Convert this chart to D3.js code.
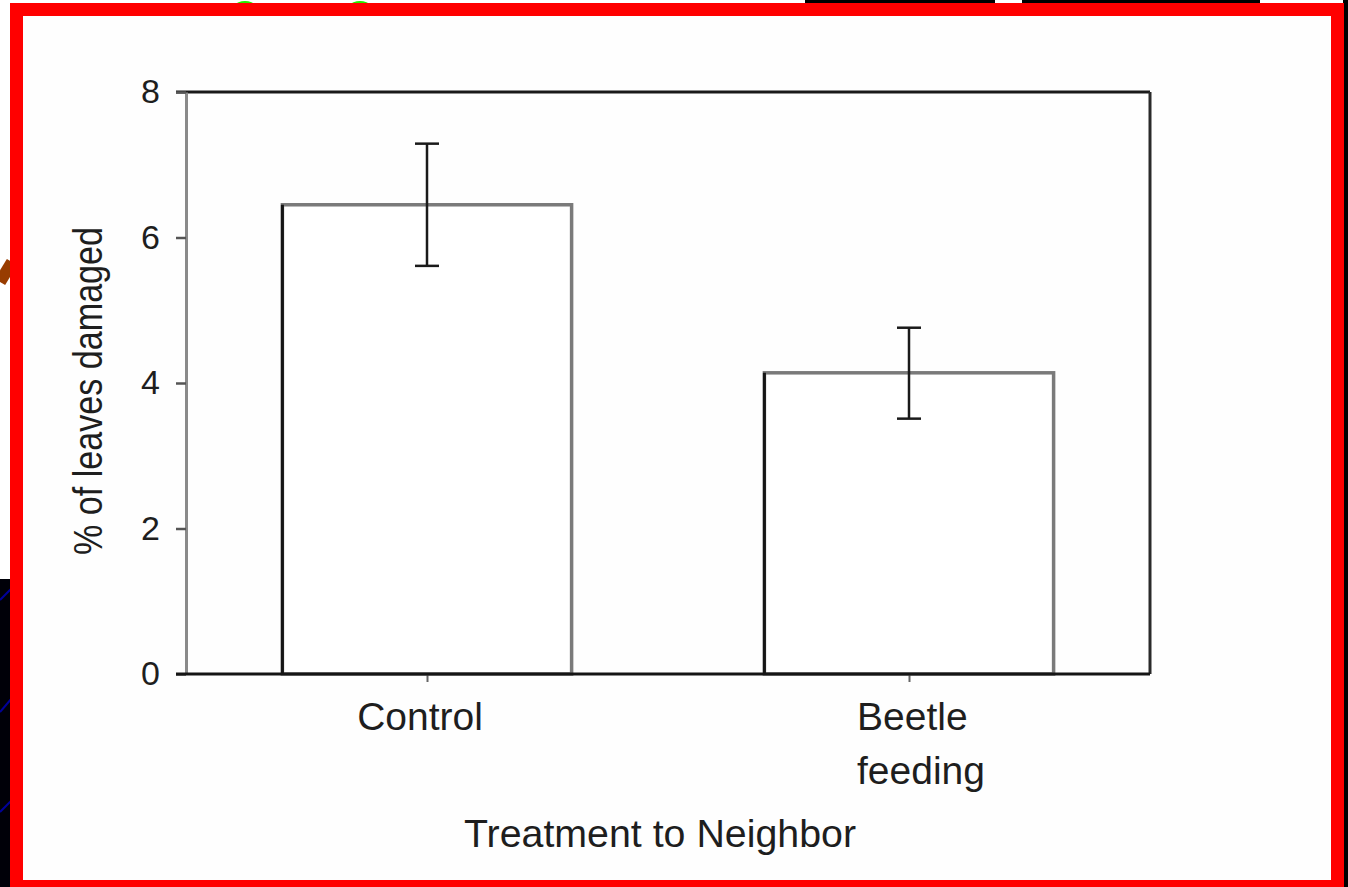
<!DOCTYPE html>
<html>
<head>
<meta charset="utf-8">
<script src="https://cdn.jsdelivr.net/npm/d3@7/dist/d3.min.js"></script>
<style>
  html, body { margin: 0; padding: 0; background: #fff; overflow: hidden; }
  svg { display: block; }
  text { font-family: "Liberation Sans", Arial, sans-serif; }
</style>
</head>
<body>
<svg id="chart"></svg>
<script>
// data
const categories = ['Control', 'Beetle feeding'];
const categoryLines = [['Control'], ['Beetle', 'feeding']];
const means = [6.45, 4.14];
const errUpper = [7.29, 4.76];
const errLower = [5.61, 3.51];
const yTicks = [0, 2, 4, 6, 8];
const yLabel = '% of leaves damaged';
const xLabel = 'Treatment to Neighbor';

const width = 1348;
const height = 887;
const margin = { top: 92, right: 198, bottom: 213, left: 186 };

const svg = d3.select('#chart')
    .attr('width', width)
    .attr('height', height);

// slide background bits peeking around the frame
const bg = svg.append('g').attr('class', 'slide-bg');
bg.append('rect').attr('x', 1343).attr('y', 0).attr('width', 5).attr('height', height).attr('fill', '#000');
bg.append('rect').attr('x', 0).attr('y', 579).attr('width', 12).attr('height', 308).attr('fill', '#000008');
[[0, 600, 12, 588], [0, 712, 12, 698], [0, 812, 12, 800]].forEach(l => {
    bg.append('line')
        .attr('x1', l[0]).attr('y1', l[1]).attr('x2', l[2]).attr('y2', l[3])
        .attr('stroke', '#00009a').attr('stroke-width', 2);
});
bg.append('line')
    .attr('x1', 0).attr('y1', 282).attr('x2', 12).attr('y2', 262)
    .attr('stroke', '#983c00').attr('stroke-width', 12);
[245, 360].forEach(cx => {
    bg.append('circle').attr('cx', cx).attr('cy', 18).attr('r', 17).attr('fill', '#22ee00');
});
bg.append('rect').attr('x', 805).attr('y', 0).attr('width', 190).attr('height', 20).attr('fill', '#000');
bg.append('rect').attr('x', 1022).attr('y', 0).attr('width', 238).attr('height', 20).attr('fill', '#000');

// red frame + white panel
svg.append('rect')
    .attr('x', 10).attr('y', 3).attr('width', 1334).attr('height', 890)
    .attr('fill', '#ff0000');
svg.append('rect')
    .attr('x', 23).attr('y', 16).attr('width', 1308).attr('height', 864)
    .attr('fill', '#fefefe');

const plotW = width - margin.left - margin.right;
const plotH = height - margin.top - margin.bottom;

const x = d3.scalePoint()
    .domain(categories)
    .range([margin.left, margin.left + plotW])
    .padding(0.5);

const y = d3.scaleLinear()
    .domain([0, 8])
    .range([margin.top + plotH, margin.top]);

const barW = x.step() * 0.6;

const chart = svg.append('g').attr('class', 'chart');

// frame top + right
chart.append('line')
    .attr('x1', margin.left - 10).attr('x2', margin.left + plotW)
    .attr('y1', y(8)).attr('y2', y(8))
    .attr('stroke', '#1a1a1a').attr('stroke-width', 3);
chart.append('line')
    .attr('x1', margin.left + plotW).attr('x2', margin.left + plotW)
    .attr('y1', y(8)).attr('y2', y(0))
    .attr('stroke', '#2a2a2a').attr('stroke-width', 3);

// bars
const bars = chart.append('g').attr('class', 'bars')
    .selectAll('g')
    .data(categories)
    .enter()
    .append('g');

bars.append('rect')
    .attr('x', d => x(d) - barW / 2)
    .attr('y', (d, i) => y(means[i]))
    .attr('width', barW)
    .attr('height', (d, i) => y(0) - y(means[i]))
    .attr('fill', '#fff')
    .attr('stroke', '#7a7a7a')
    .attr('stroke-width', 3.5);

bars.append('line')
    .attr('x1', d => x(d) - barW / 2)
    .attr('x2', d => x(d) - barW / 2)
    .attr('y1', (d, i) => y(means[i]))
    .attr('y2', y(0))
    .attr('stroke', '#151515')
    .attr('stroke-width', 3);

// error bars
const capW = 24;
bars.append('line')
    .attr('x1', d => x(d)).attr('x2', d => x(d))
    .attr('y1', (d, i) => y(errUpper[i]))
    .attr('y2', (d, i) => y(errLower[i]))
    .attr('stroke', '#1a1a1a').attr('stroke-width', 2.5);
bars.append('line')
    .attr('x1', d => x(d) - capW / 2).attr('x2', d => x(d) + capW / 2)
    .attr('y1', (d, i) => y(errUpper[i])).attr('y2', (d, i) => y(errUpper[i]))
    .attr('stroke', '#1a1a1a').attr('stroke-width', 2.5);
bars.append('line')
    .attr('x1', d => x(d) - capW / 2).attr('x2', d => x(d) + capW / 2)
    .attr('y1', (d, i) => y(errLower[i])).attr('y2', (d, i) => y(errLower[i]))
    .attr('stroke', '#1a1a1a').attr('stroke-width', 2.5);

// y axis
const yAxis = chart.append('g')
    .attr('transform', `translate(${margin.left},0)`)
    .call(d3.axisLeft(y).tickValues(yTicks).tickSize(10).tickPadding(16).tickSizeOuter(0));
yAxis.select('.domain').attr('stroke', '#8a8a8a').attr('stroke-width', 3);
yAxis.selectAll('.tick line').attr('stroke', '#555').attr('stroke-width', 2.5);
yAxis.selectAll('.tick text')
    .attr('fill', '#1e1e1e')
    .style('font-size', '34px')
    .style('font-family', '"Liberation Sans", Arial, sans-serif');

// x axis
const xAxis = chart.append('g')
    .attr('transform', `translate(0,${y(0)})`)
    .call(d3.axisBottom(x).tickSize(8).tickSizeOuter(0).tickFormat(''));
xAxis.select('.domain').remove();
xAxis.selectAll('.tick line').attr('stroke', '#666').attr('stroke-width', 2);
chart.append('line')
    .attr('x1', margin.left - 10).attr('x2', margin.left + plotW)
    .attr('y1', y(0)).attr('y2', y(0))
    .attr('stroke', '#151515').attr('stroke-width', 3);

// category labels, left-aligned blocks centred on the tick
const catLabels = chart.append('g').attr('class', 'cat-labels')
    .selectAll('text')
    .data(categories)
    .enter()
    .append('text')
    .attr('y', y(0) + 56)
    .attr('fill', '#1e1e1e')
    .style('font-size', '39px');

catLabels.each(function (d, i) {
    const t = d3.select(this);
    categoryLines[i].forEach((line, j) => {
        t.append('tspan').attr('dy', j === 0 ? 0 : 54).attr('x', 0).text(line);
    });
    let maxW = 0;
    t.selectAll('tspan').each(function () {
        maxW = Math.max(maxW, this.getComputedTextLength());
    });
    t.selectAll('tspan').attr('x', x(d) - maxW / 2 + (i === 0 ? -7 : 12));
});

// axis titles
chart.append('text')
    .attr('x', margin.left + plotW / 2 - 8)
    .attr('y', 847)
    .attr('text-anchor', 'middle')
    .attr('fill', '#1e1e1e')
    .style('font-size', '39px')
    .attr('textLength', 392)
    .attr('lengthAdjust', 'spacingAndGlyphs')
    .text(xLabel);

chart.append('text')
    .attr('transform', `translate(102,${(227 + 555) / 2}) rotate(-90)`)
    .attr('text-anchor', 'middle')
    .attr('fill', '#1e1e1e')
    .attr('textLength', 328)
    .attr('lengthAdjust', 'spacingAndGlyphs')
    .style('font-size', '40px')
    .text(yLabel);
</script>
</body>
</html>
